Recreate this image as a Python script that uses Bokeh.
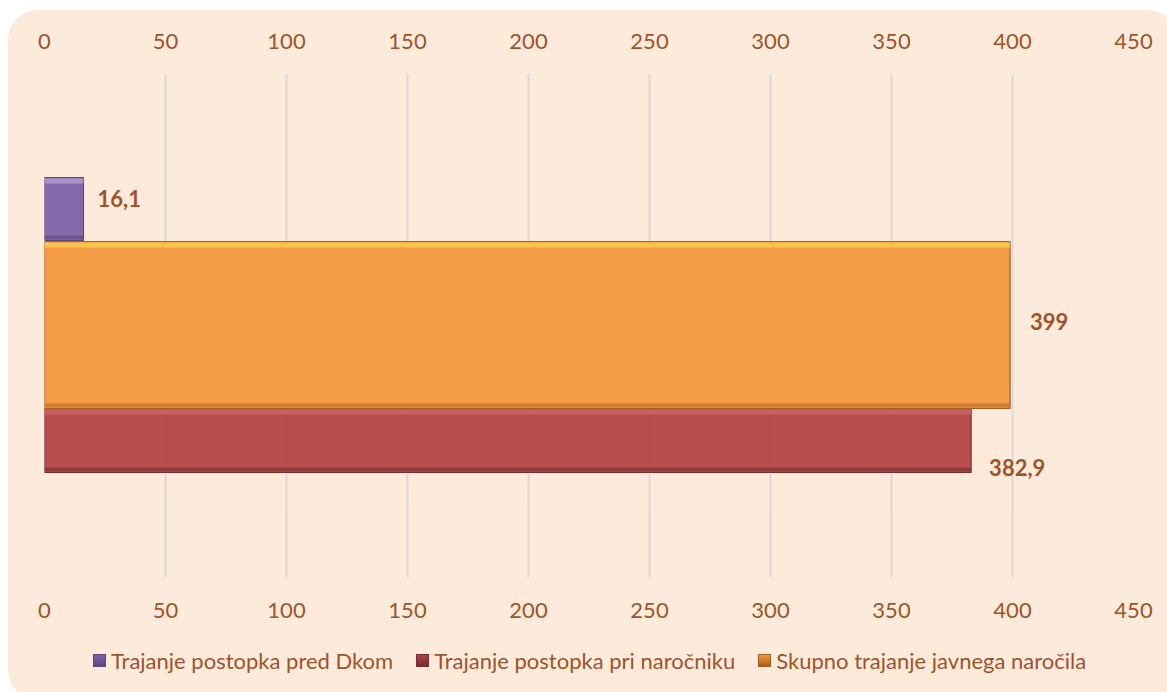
from bokeh.plotting import figure
from bokeh.models import (Range1d, LinearAxis, SingleIntervalTicker, ColumnDataSource, Div)
from bokeh.layouts import column
from bokeh.core.properties import value
from bokeh.embed import file_html
from bokeh.resources import INLINE

# ---- data ----
series = ["Trajanje postopka pred Dkom", "Trajanje postopka pri naročniku",
          "Skupno trajanje javnega naročila"]
values = [16.1, 382.9, 399.0]
labels = ["16,1", "382,9", "399"]

# ---- styles (layout in screen-row units) ----
fills = ["#8062A9", "#B24343", "#F3973B"]
edges = ["#5E4581", "#7B2C2C", "#A8601F"]
tops = ["#B79FD6", "#CC6A6A", "#F9D34E"]
bottoms = ["#5D4580", "#7E2E2E", "#B86A28"]
bar_center = [208.5, 440.0, 324.5]
bar_height = [63, 64, 167]
label_dy = [-11, 27, -4]
label_dx = [14, 18, 20]
draw_order = [1, 2, 0]

BG = "#FCEADB"
TXT = "#9E5429"
FONT = "Lato"
FS = "22px"

p = figure(frame_width=1089, frame_height=504, output_backend="svg", toolbar_location=None,
           x_range=Range1d(0, 450), y_range=Range1d(577, 73),
           x_axis_location=None, y_axis_location=None,
           min_border_left=36, min_border_right=34, min_border_top=63, min_border_bottom=53)
p.background_fill_color = None
p.border_fill_color = None
p.outline_line_color = None

p.ygrid.visible = False
p.xgrid.ticker = SingleIntervalTicker(interval=50)
p.xgrid.grid_line_color = "#D8D9DB"
p.xgrid.grid_line_width = 2

for loc in ("above", "below"):
    ax = LinearAxis(ticker=SingleIntervalTicker(interval=50))
    ax.axis_line_color = None
    ax.major_tick_line_color = None
    ax.minor_tick_line_color = None
    ax.major_label_standoff = 19
    ax.major_label_text_font = FONT
    ax.major_label_text_font_size = FS
    ax.major_label_text_color = TXT
    p.add_layout(ax, loc)

for i in draw_order:
    c, h = bar_center[i], bar_height[i]
    src = ColumnDataSource(dict(y=[c], right=[values[i]], h=[h]))
    p.hbar(y="y", right="right", height="h", left=0, source=src,
           fill_color=fills[i], fill_alpha=0.94, line_color=edges[i], line_width=1.2)
    # bevel highlight (top) and shade (bottom)
    tsrc = ColumnDataSource(dict(y=[c - h / 2 + 3.5], right=[values[i]]))
    p.hbar(y="y", right="right", height=5, left=0, source=tsrc,
           fill_color=tops[i], fill_alpha=0.75, line_color=None)
    bsrc = ColumnDataSource(dict(y=[c + h / 2 - 3], right=[values[i]]))
    p.hbar(y="y", right="right", height=4, left=0, source=bsrc,
           fill_color=bottoms[i], fill_alpha=0.6, line_color=None)

lsrc = ColumnDataSource(dict(x=values, y=[c + d for c, d in zip(bar_center, label_dy)],
                             t=labels, dx=label_dx))
p.text(x="x", y="y", text="t", x_offset="dx", source=lsrc, text_font=value(FONT),
       text_font_style="bold", text_font_size=FS, text_color=TXT,
       text_baseline="middle", text_align="left")

# legend (order as in the reference: purple, red, orange)
items = []
for name, f, e in zip(series, fills, edges):
    items.append(
        f'<span style="display:inline-flex;align-items:center;margin-right:23px;white-space:nowrap">'
        f'<span style="display:inline-block;width:13px;height:13px;box-sizing:border-box;'
        f'background:linear-gradient({f},{e});border:1px solid {e};margin-right:5px"></span>'
        f'{name}</span>')
legend_div = Div(text="".join(items), width=1159, height=60,
                 styles={"font-family": FONT, "font-size": FS, "color": TXT,
                         "padding-left": "80px", "padding-top": "8px",
                         "box-sizing": "border-box", "white-space": "nowrap"})

layout = column(p, legend_div, spacing=0,
                styles={"background-color": BG, "border-radius": "30px",
                        "margin-left": "8px", "margin-top": "10px"})

open("out.html", "w").write(file_html(layout, INLINE))
